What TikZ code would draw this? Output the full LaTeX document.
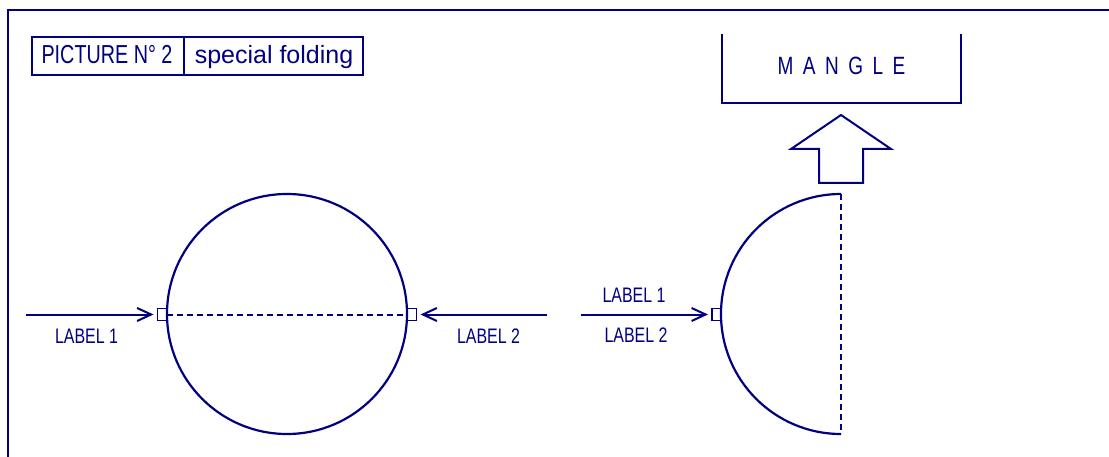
\documentclass[tikz,border=0pt]{standalone}
\usepackage{fontspec}
\setmainfont{Liberation Sans}
\newfontfamily\capsf[FakeStretch=0.76]{Liberation Sans}
\usetikzlibrary{arrows.meta}
\definecolor{ink}{HTML}{000080}
\begin{document}
\begin{tikzpicture}[x=1pt,y=-1pt,
  line/.style={draw=ink,line width=2pt},
  dash line/.style={draw=ink,line width=2pt,dash pattern=on 6pt off 4pt},
  feed/.style={draw=ink,line width=2pt,-{Straight Barb[length=14pt,width=13pt,line width=2pt]}},
  clip box/.style={draw=ink,line width=1.6pt,minimum width=9pt,minimum height=12pt,inner sep=0pt,outer sep=0pt},
  lbl/.style={text=ink,font=\capsf\fontsize{21}{21}\selectfont,inner sep=0pt,anchor=base},
  ttl/.style={text=ink,inner sep=0pt,anchor=base}]
\useasboundingbox (0,0) rectangle (1109,457);
% frame
\draw[line] (1109,10) -- (8,10) -- (8,457);
% title box
\draw[draw=ink,line width=1.6pt] (32,37) rectangle (363,75);
\draw[draw=ink,line width=1.6pt] (184,37) -- (184,75);
\node[ttl,font=\capsf\fontsize{26}{26}\selectfont] (t1) at (107,64) {PICTURE N° 2};
\node[ttl,font=\fontsize{25}{25}\selectfont] (t2) at (274,64) {special folding};
% mangle
\draw[line] (722,34) -- (722,103) -- (961,103) -- (961,34);
\node[ttl,font=\capsf\fontsize{25}{25}\selectfont] (mangle) at (841.5,75) {M\hspace{9.5pt}A\hspace{9.5pt}N\hspace{9.5pt}G\hspace{9.5pt}L\hspace{9.5pt}E};
\draw[line,line join=miter] (841,115) -- (891,149) -- (863,149) -- (863,183) -- (819,183) -- (819,149) -- (791,149) -- cycle;
% full circle
\node[draw=ink,line width=2.2pt,circle,minimum size=240pt,inner sep=0pt] (c1) at (287,314) {};
\node[clip box] (sq1) at (162,314.5) {};
\node[clip box] (sq2) at (412,314.5) {};
\draw[dash line] (sq1.east) -- (sq2.west);
\coordinate (a1) at (26,314.5);
\coordinate (a2) at (547,314.5);
\draw[feed] (a1) -- ([xshift=-4pt]sq1.west);
\draw[feed] (a2) -- ([xshift=4pt]sq2.east);
\node[lbl] (l1) at (86.5,343) {LABEL 1};
\node[lbl] (l2) at (488.5,343) {LABEL 2};
% half circle
\coordinate (htop) at (841,194);
\coordinate (hbot) at (841,434);
\draw[line,line width=2.2pt] (htop) arc[start angle=90,end angle=270,radius=120pt];
\draw[dash line] (htop) -- (hbot);
\node[clip box] (sq3) at (716.5,314.5) {};
\coordinate (a3) at (581,314.5);
\draw[feed] (a3) -- ([xshift=-4pt]sq3.west);
\node[lbl] (l3) at (634,302) {LABEL 1};
\node[lbl] (l4) at (636,342) {LABEL 2};
\end{tikzpicture}
\end{document}
